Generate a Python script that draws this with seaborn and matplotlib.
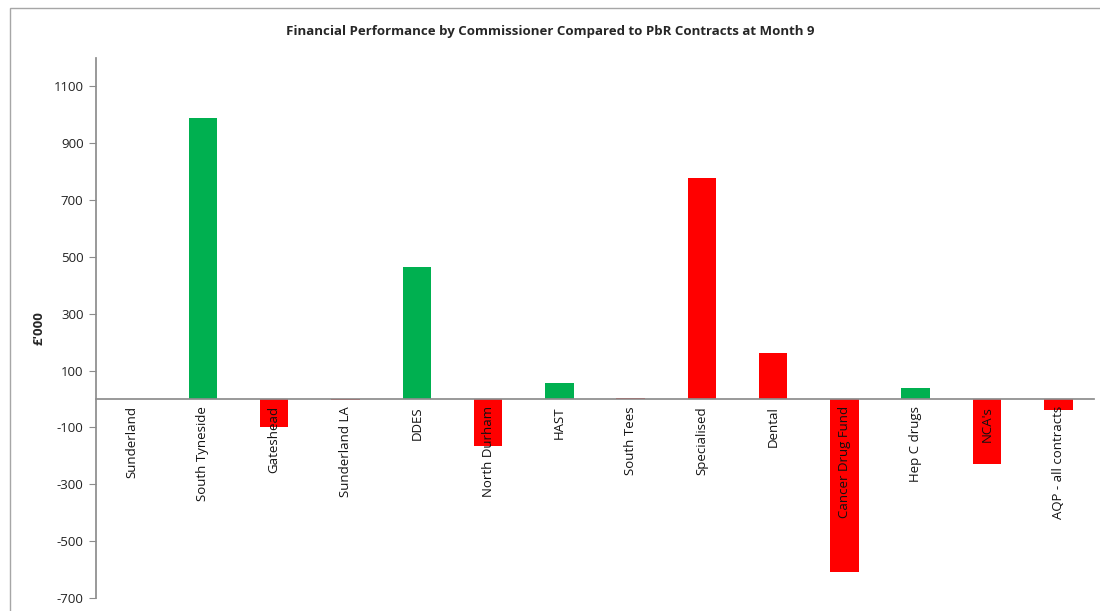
import matplotlib
matplotlib.use("Agg")
import matplotlib.pyplot as plt
import matplotlib.patches as mpatches
import matplotlib.transforms as mtransforms
import seaborn as sns
import pandas as pd

# Commissioner variances against PbR contracts (£'000)
commissioners = ["Sunderland", "South Tyneside", "Gateshead", "Sunderland LA", "DDES",
                 "North Durham", "HAST", "South Tees", "Specialised", "Dental",
                 "Cancer Drug Fund", "Hep C drugs", "NCA's", "AQP - all contracts"]
variance = [0, 990, -98, -3, 465, -165, 57, 3, 778, 162, -608, 40, -228, -40]
status = ["Favourable", "Favourable", "Adverse", "Adverse", "Favourable", "Adverse",
          "Favourable", "Adverse", "Adverse", "Adverse", "Adverse", "Favourable",
          "Adverse", "Adverse"]
y_ticks = [-700, -500, -300, -100, 100, 300, 500, 700, 900, 1100]

df = pd.DataFrame({"commissioner": commissioners, "variance": variance, "status": status})

sns.set_theme(style="white")
plt.rcParams["font.family"] = ["Open Sans", "DejaVu Sans"]

fig = plt.figure(figsize=(11, 6.11), dpi=100)
ax = fig.add_axes([0.0873, 0.0213, 0.9072, 0.8837])

sns.barplot(data=df, x="commissioner", y="variance", hue="status",
            palette={"Favourable": "#00B050", "Adverse": "#FF0000"},
            dodge=False, width=0.4, linewidth=0, saturation=1, legend=False, ax=ax)

ax.set_ylim(-700, 1200)
ax.set_xlim(-0.5, len(commissioners) - 0.5)
ax.set_yticks(y_ticks)
ax.set_yticklabels([str(v) for v in y_ticks], fontsize=9.5, color="#222222")

grey = "#8c8c8c"
for side in ["top", "right"]:
    ax.spines[side].set_visible(False)
ax.spines["left"].set_color(grey)
ax.spines["bottom"].set_color(grey)
ax.spines["bottom"].set_position(("data", 0))

# Category boundary ticks on the zero line
ax.set_xticks([i - 0.5 for i in range(len(commissioners) + 1)])
ax.set_xticklabels([])
ax.tick_params(axis="x", direction="out", length=5, color=grey, width=0.8)
ax.tick_params(axis="y", direction="out", length=5, color=grey, width=0.8, left=True, pad=4)
ax.set_xlabel("")
ax.set_ylabel("£'000", fontsize=9.5, fontweight="bold", labelpad=6)

# Rotated category labels hanging just below the zero line
trans = mtransforms.offset_copy(ax.transData, fig=fig, x=0, y=-7, units="dots")
for i, name in enumerate(commissioners):
    ax.text(i, 0, name, rotation=90, ha="center", va="top", fontsize=9.5,
            color="#111111", transform=trans)

fig.text(0.5, 0.948, "Financial Performance by Commissioner Compared to PbR Contracts at Month 9",
         ha="center", va="center", fontsize=9.5, fontweight="bold")

# Chart-area frame
frame = mpatches.Rectangle((10 / 1100, -0.01), 1.1, 1 - 8 / 611 + 0.01,
                           transform=fig.transFigure, fill=False,
                           edgecolor="#a6a6a6", linewidth=1.0)
fig.patches.append(frame)

fig.savefig("out.png", dpi=100)
